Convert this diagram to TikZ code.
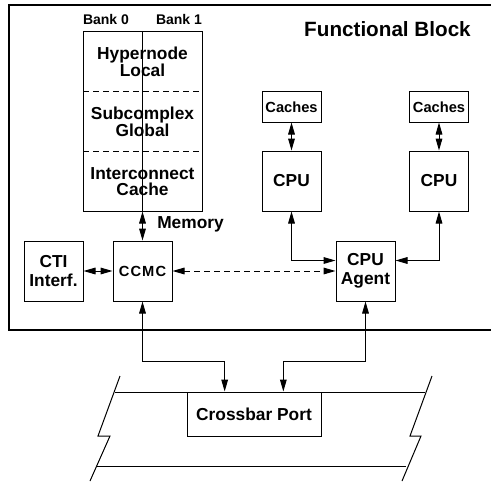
\documentclass[tikz,border=0pt]{standalone}
\usepackage{fontspec}
\setmainfont{Liberation Sans}
\usetikzlibrary{arrows.meta}

\tikzset{
	unit/.style={draw, line width=0.75pt, inner sep=0pt, align=center,
		minimum width=44.25pt, minimum height=45pt,
		font=\bfseries\fontsize{13}{14}\selectfont},
	small/.style={unit, minimum height=22.5pt, font=\bfseries\fontsize{11}{12}\selectfont},
	lbl/.style={inner sep=0pt, align=center, font=\bfseries\fontsize{13}{12}\selectfont},
	link/.style={line width=0.75pt, >={Triangle[length=9pt,width=5pt]}},
}

\begin{document}
\begin{tikzpicture}[x=0.75pt, y=-0.75pt]
	    \useasboundingbox (0,0) rectangle (491,481);

	    % functional block frame, open to the right
	    \draw[line width=1.8pt] (491,5) -- (9,5) -- (9,330) -- (491,330);
	    \node[lbl, anchor=east, font=\bfseries\fontsize{15.5}{17}\selectfont] (fb) at (471,29) {Functional Block};

	    % memory with its two banks
	    \node[draw, line width=0.75pt, minimum width=89.25pt, minimum height=134.25pt, inner sep=0pt] (mem) at (142.5,121.5) {};
	    \draw[line width=0.6pt] (mem.north) -- (mem.south);
	    \draw[line width=0.6pt, dash pattern=on 4.5pt off 3pt] (83,91) -- (202,91);
	    \draw[line width=0.6pt, dash pattern=on 4.5pt off 3pt] (83,151) -- (202,151);
	    \node[lbl] (hyp) at (142.5,62) {Hypernode\\Local};
	    \node[lbl] (sub) at (142.5,122) {Subcomplex\\Global};
	    \node[lbl] (icc) at (142.5,182) {Interconnect\\Cache};
	    \node[lbl, font=\bfseries\fontsize{10.5}{12}\selectfont] (b0) at (106,19) {Bank 0};
	    \node[lbl, font=\bfseries\fontsize{10.5}{12}\selectfont] (b1) at (179,19) {Bank 1};

	    % units inside the block
	    \node[unit] (cti) at (53.5,271) {CTI\\Interf.};
	    \node[unit, font=\bfseries\fontsize{11}{12}\selectfont] (ccmc) at (142.5,271) {C\kern0.8pt C\kern0.8pt M\kern0.8pt C};
	    \node[unit] (agent) at (365.5,271) {CPU\\Agent};
	    \node[unit] (cpua) at (291.5,181) {CPU};
	    \node[unit] (cpub) at (439,181) {CPU};
	    \node[small] (cacha) at (291.5,107) {Caches};
	    \node[small] (cachb) at (439,107) {Caches};
	    \node[lbl, anchor=west] (memlbl) at (157,224) {Memory};

	    \draw[link, <->] (mem.south -| ccmc.north) -- (ccmc.north);
	    \draw[link, <->] (cti) -- (ccmc);
	    \draw[link, <->, dash pattern=on 4.5pt off 3pt] (ccmc) -- (agent);
	    \draw[link, <->] (cacha) -- (cpua);
	    \draw[link, <->] (cachb) -- (cpub);
	    \coordinate (ina) at ([yshift=-15]agent.north west);
	    \coordinate (inb) at ([yshift=-15]agent.north east);
	    \draw[link, <->] (cpua.south) |- (ina);
	    \draw[link, <->] (cpub.south) |- (inb);

	    % crossbar below
	    \node[draw, line width=0.75pt, minimum width=100.5pt, minimum height=33pt, inner sep=0pt,
	        font=\bfseries\fontsize{13}{14}\selectfont] (xbar) at (254,414) {Crossbar Port};
	    \draw[line width=0.75pt] (115,392) -- (425,392);
	    \draw[line width=0.75pt] (97,466) -- (406,466);
	    \draw[line width=0.75pt] (120,376) -- (98,436) -- (110,436) -- (90,481);
	    \draw[line width=0.75pt] (432,376) -- (410,436) -- (421,436) -- (402,481);

	    \coordinate (xa) at ([xshift=-22]xbar.north);
	    \coordinate (xb) at ([xshift=22]xbar.north);
	    \draw[link, <->] (ccmc.south) -- (ccmc.south |- 0,361) -| (xa);
	    \draw[link, <->] (agent.south) -- (agent.south |- 0,361) -| (xb);

	\end{tikzpicture}
\end{document}
